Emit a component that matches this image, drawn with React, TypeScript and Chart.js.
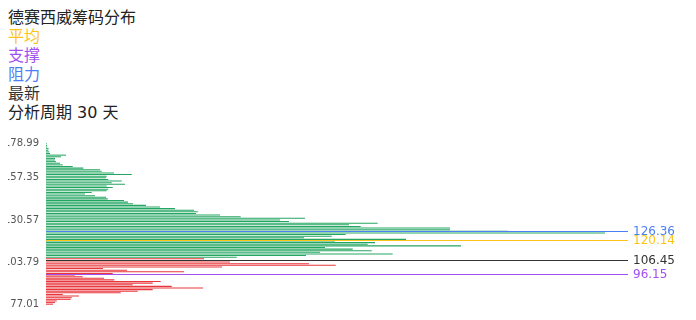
import React, { useEffect, useRef } from "react";
import { Chart, registerables } from "chart.js";

Chart.register(...registerables);

// ---- header text ----
const TITLE = "德赛西威筹码分布";
const LEGEND_ITEMS = ["平均", "支撑", "阻力", "最新"];
const LEGEND_COLORS = ["#fcc419", "#a24ff0", "#4d80f3", "#333333"];
const PERIOD_LABEL = "分析周期 30 天";

// ---- price bins (low -> high) ----
const PRICE_LOW = 77.01;
const PRICE_HIGH = 178.99;
const CURRENT_PRICE = 106.45;

// chip amount per price bin, from lowest price bin to highest
const CHIPS = [
  1.2, 1.55, 1.84, 4.24, 4.42, 5.67, 2.87, 12.84, 15.76, 18.33,
  26.98, 21.6, 14.9, 18.33, 19.71, 11.74, 9.97, 6.31, 4.98, 11.46,
  23.71, 13.92, 9.79, 30.24, 49.78, 45.19, 31.62, 34.36, 27.15, 32.77,
  44.67, 59.57, 47.08, 55.96, 52.7, 47.94, 71.31, 55.27, 56.53, 49.66,
  61.86, 44.33, 49.09, 51.49, 96.05, 79.38, 69.42, 69.42, 54.07, 52.06,
  56.99, 41.75, 40.21, 44.5, 33.45, 29.9, 25.77, 26.07, 25.43, 22.16,
  19.59, 17.18, 14.95, 14.09, 13.4, 10.6, 10.31, 8.42, 6.7, 7.85,
  10.43, 10.7, 11.46, 10.43, 13.57, 11.29, 13.01, 10.7, 10.31, 10.43,
  14.73, 11.68, 9.57, 9.28, 6.41, 4.59, 2.87, 2.41, 1.72, 1.55,
  1.55, 2.58, 3.44, 0.69, 0.57, 0.4, 0.46, 0.22, 0.17, 0.14,
];

const SHOWN_TICK_INDEX = [0, 26, 52, 78, 99];

// ---- reference lines ----
const LINE_VALUES = [126.36, 120.14, 106.45, 96.15];
const LINE_COLORS = ["#4d80f3", "#fcc419", "#333333", "#a24ff0"];
const LINE_AXIS_MIN = 75;
const LINE_AXIS_MAX = 187.3;

const GREEN = "#25a562";
const RED = "#e8363a";

const PRICES = CHIPS.map(
  (_, i) => PRICE_LOW + (i * (PRICE_HIGH - PRICE_LOW)) / (CHIPS.length - 1)
);
const PRICE_LABELS = PRICES.map((p) => (Math.floor(p * 100 + 1e-6) / 100).toFixed(2));

const linesPlugin = {
  id: "refLines",
  afterDatasetsDraw(chart: any) {
    const { ctx, chartArea } = chart;
    const yScale = chart.scales.yLine;
    ctx.save();
    LINE_VALUES.forEach((v, k) => {
      const y = Math.round(yScale.getPixelForValue(v)) + 0.5;
      ctx.strokeStyle = LINE_COLORS[k];
      ctx.lineWidth = 1;
      ctx.beginPath();
      ctx.moveTo(chartArea.left, y);
      ctx.lineTo(chartArea.right, y);
      ctx.stroke();
      ctx.fillStyle = LINE_COLORS[k];
      ctx.font = "12px 'DejaVu Sans'";
      ctx.textAlign = "left";
      ctx.textBaseline = "middle";
      ctx.fillText(v.toFixed(2), chartArea.right + 5, y);
    });
    ctx.restore();
  },
};

export default function App() {
  const canvasRef = useRef<HTMLCanvasElement | null>(null);

  useEffect(() => {
    if (!canvasRef.current) return;
    Chart.defaults.font.family = "'DejaVu Sans', sans-serif";
    const chart = new Chart(canvasRef.current, {
      type: "bar",
      data: {
        labels: PRICE_LABELS,
        datasets: [
          {
            data: CHIPS,
            backgroundColor: PRICES.map((p) => (p < CURRENT_PRICE ? RED : GREEN)),
            barPercentage: 0.8,
            categoryPercentage: 0.8,
          },
        ],
      },
      options: {
        indexAxis: "y",
        responsive: false,
        animation: false,
        layout: { padding: { top: 21, bottom: 15, left: 0, right: 60 } },
        plugins: {
          legend: { display: false },
          tooltip: { enabled: false },
          title: { display: false },
        },
        scales: {
          x: { type: "linear", display: false, min: 0, max: 100 },
          y: {
            type: "category",
            reverse: true,
            grid: { display: false, drawTicks: false },
            border: { display: false },
            afterFit(scale: any) {
              scale.width = 38;
            },
            ticks: {
              autoSkip: false,
              padding: 7,
              color: "#555555",
              font: { size: 10 },
              callback(_v: any, index: number) {
                return SHOWN_TICK_INDEX.includes(index) ? PRICE_LABELS[index] : "";
              },
            },
          },
          yLine: {
            type: "linear",
            axis: "y",
            display: false,
            position: "right",
            offset: false,
            reverse: false,
            grace: 0,
            min: LINE_AXIS_MIN,
            max: LINE_AXIS_MAX,
          },
        },
      } as any,
      plugins: [linesPlugin],
    });
    return () => chart.destroy();
  }, []);

  const font = "'DejaVu Sans', 'Noto Sans CJK SC', sans-serif";
  return (
    <div style={{ fontFamily: font }}>
      <div style={{ fontSize: 16, lineHeight: "19px", color: "#222" }}>
        <div>{TITLE}</div>
        {LEGEND_ITEMS.map((t, i) => (
          <div key={t} style={{ color: LEGEND_COLORS[i] }}>
            {t}
          </div>
        ))}
        <div>{PERIOD_LABEL}</div>
      </div>
      <canvas
        ref={canvasRef}
        width={680}
        height={198}
        style={{ display: "block", width: 680, height: 198 }}
      />
    </div>
  );
}
